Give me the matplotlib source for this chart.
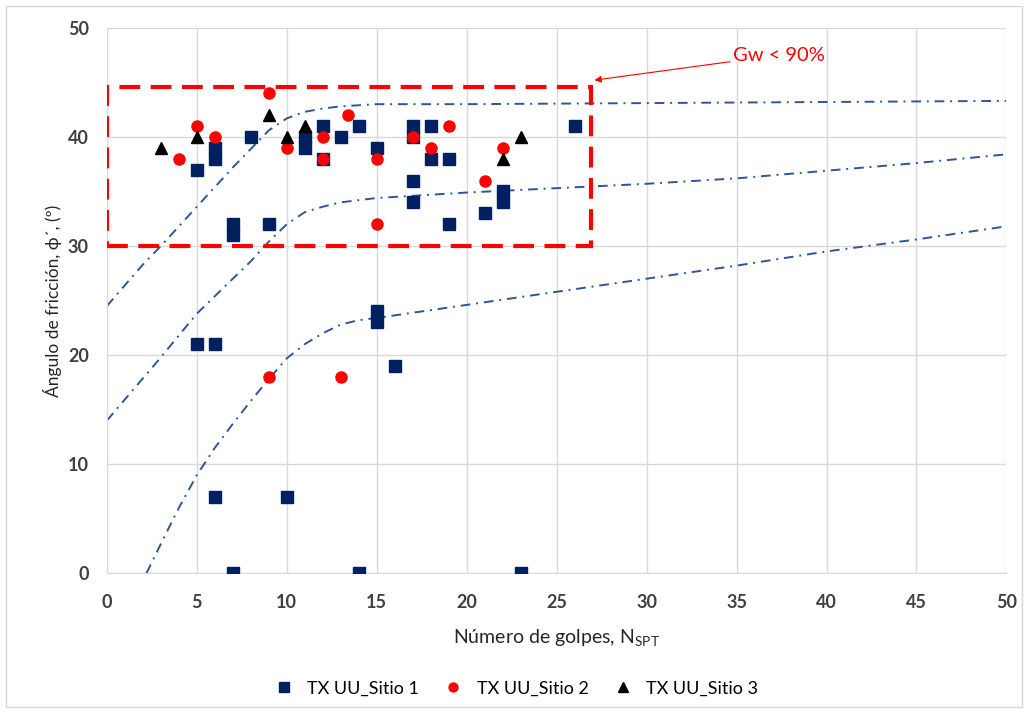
import matplotlib
matplotlib.use("Agg")
import matplotlib.pyplot as plt
from matplotlib.patches import Rectangle

plt.rcParams['font.family'] = ['Lato', 'DejaVu Sans']

# Sitio 1 (squares)
s1_x = [5, 5, 6, 6, 6, 6, 7, 7, 7, 8, 9, 10, 11, 11, 12, 12, 13, 14, 14, 15, 15, 15,
        16, 17, 17, 17, 17, 18, 18, 19, 19, 21, 22, 22, 23, 26]
s1_y = [37, 21, 38, 39, 21, 7, 31, 32, 0, 40, 32, 7, 39, 40, 41, 38, 40, 41, 0, 39, 23, 24,
        19, 40, 41, 36, 34, 41, 38, 38, 32, 33, 34, 35, 0, 41]

# Sitio 2 (circles)
s2_x = [4, 5, 6, 9, 9, 10, 12, 12, 13.4, 13, 15, 15, 17, 18, 19, 21, 22]
s2_y = [38, 41, 40, 44, 18, 39, 40, 38, 42, 18, 38, 32, 40, 39, 41, 36, 39]

# Sitio 3 (triangles)
s3_x = [3, 5, 9, 10, 11, 22, 23]
s3_y = [39, 40, 42, 40, 41, 38, 40]

# reference curves (dash-dot)
c1_x = [0, 2, 3, 5, 7, 9, 10, 11, 12, 13, 15, 20, 30, 40, 50]
c1_y = [24.5, 28.3, 30.0, 33.6, 37.2, 40.6, 41.7, 42.3, 42.6, 42.8, 43.0, 43.0, 43.1, 43.2, 43.3]
c2_x = [0, 3, 5, 7, 8, 9, 10, 11, 12, 13, 15, 20, 25, 30, 35, 40, 45, 50]
c2_y = [14.0, 19.8, 23.8, 27.0, 28.6, 30.4, 32.0, 33.1, 33.6, 34.0, 34.4, 34.9, 35.3, 35.7, 36.2, 36.9, 37.6, 38.4]
c3_x = [2.2, 3, 4, 5, 6, 7, 8, 9, 10, 11, 12, 13, 14, 15, 20, 25, 30, 35, 40, 45, 50]
c3_y = [0, 2.7, 6.0, 9.0, 11.5, 13.7, 15.8, 17.8, 19.7, 21.0, 22.0, 22.8, 23.2, 23.4, 24.6, 25.8, 27.0, 28.2, 29.5, 30.6, 31.8]

# zone "Gw < 90%"
box_x = [0, 26.9]
box_y = [30, 44.6]

fig = plt.figure(figsize=(10.28, 7.13), dpi=100)
ax = fig.add_axes([0.104, 0.196, 0.875, 0.765])

fig.patches.append(Rectangle((0.006, 0.008), 0.988, 0.984, transform=fig.transFigure,
                             fill=False, edgecolor="#D9D9D9", linewidth=1))

curve_col = "#2F5597"
for cx, cy in [(c1_x, c1_y), (c2_x, c2_y), (c3_x, c3_y)]:
    ln, = ax.plot(cx, cy, color=curve_col, linewidth=1.4, zorder=2)
    ln.set_dashes((5, 3, 1, 3))

ax.add_patch(Rectangle((box_x[0], box_y[0]), box_x[1] - box_x[0], box_y[1] - box_y[0],
                       fill=False, edgecolor="#FF0000", linewidth=3,
                       linestyle=(0, (5, 2.5)), zorder=3))

ax.plot(s1_x, s1_y, "s", color="#002060", markersize=8.5, linestyle="none",
        label="TX UU_Sitio 1", zorder=4)
ax.plot(s2_x, s2_y, "o", color="#FF0000", markersize=8, linestyle="none",
        label="TX UU_Sitio 2", zorder=5)
ax.plot(s3_x, s3_y, "^", color="black", markersize=9, linestyle="none",
        label="TX UU_Sitio 3", zorder=6)

ax.annotate("Gw < 90%", xy=(27.1, 45.2), xytext=(34.8, 47.5), color="#FF0000",
            fontsize=14.5, va="center", ha="left",
            arrowprops=dict(arrowstyle="-|>", color="#FF0000", lw=0.8,
                            shrinkA=0, shrinkB=0, mutation_scale=10))

ax.set_xlim(0, 50)
ax.set_ylim(0, 50)
ax.set_xticks(range(0, 51, 5))
ax.set_yticks(range(0, 51, 10))
ax.grid(True, color="#D9D9D9", linewidth=1)
ax.set_axisbelow(True)
for side in ["top", "right"]:
    ax.spines[side].set_visible(False)
for side in ["left", "bottom"]:
    ax.spines[side].set_color("#D9D9D9")
ax.tick_params(length=0, labelsize=13, colors="#404040")
ax.tick_params(axis="x", pad=15)
ax.tick_params(axis="y", pad=13)
for lbl in ax.get_xticklabels() + ax.get_yticklabels():
    lbl.set_fontweight("bold")

ax.set_xlabel("Número de golpes, N$_{\\mathregular{SPT}}$", fontsize=14, color="#262626", labelpad=12)
ax.set_ylabel("Ángulo de fricción, ϕ´, (º)", fontsize=12.5, color="#262626", labelpad=4)

fig.legend(loc="center", bbox_to_anchor=(0.498, 0.034), ncol=3, frameon=False,
           fontsize=13, handletextpad=0.3, columnspacing=0.9, markerscale=0.8)

fig.savefig("out.png", dpi=100)
